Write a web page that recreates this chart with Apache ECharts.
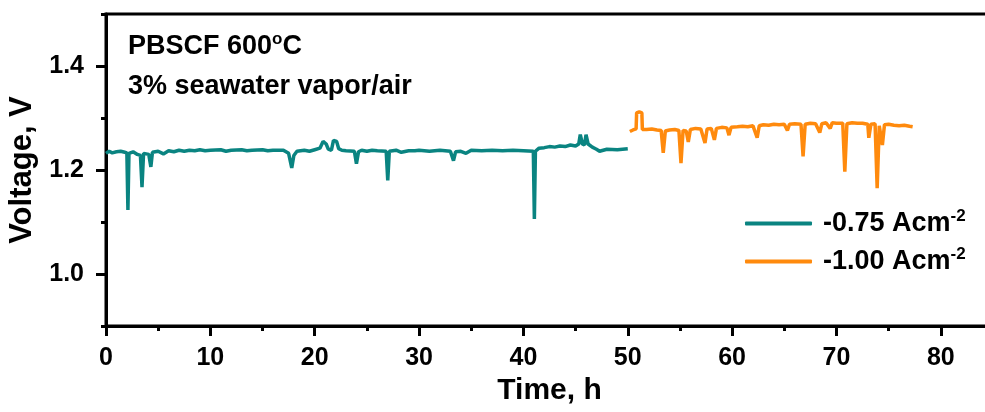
<!DOCTYPE html>
<html>
<head>
<meta charset="utf-8">
<script src="https://cdn.jsdelivr.net/npm/echarts@6/dist/echarts.min.js"></script>
<style>
  html, body { margin: 0; padding: 0; background: #fff; }
  #chart { width: 985px; height: 412px; }
</style>
</head>
<body>
<div id="chart"></div>
<script>
// -0.75 A/cm2 run (teal)
var time075 = [0, 0.3, 0.6, 1.0, 1.4, 1.8, 2.0, 2.1, 2.2, 2.6, 3.0, 3.3, 3.45, 3.6, 4.1, 4.3, 4.45, 5, 5.5, 6, 6.5, 7, 7.5, 8, 8.5, 9, 9.5, 10,
  11, 11.5, 12, 13, 13.5, 14, 15, 15.5, 16, 17, 17.5, 17.8, 18.0, 18.3, 19, 19.5, 20, 20.5, 20.8, 21.1, 21.3, 21.6, 21.8, 22.1, 22.3,
  22.6, 23, 23.8, 24.0, 24.2, 24.5, 25, 25.5, 26, 26.85, 27.0, 27.15, 27.8, 28.3, 29, 29.6, 30, 31, 32, 33, 33.3, 33.5, 34, 34.5, 35,
  36, 37, 38, 39, 40, 40.95, 41.05, 41.15, 41.5, 42, 42.5, 43, 43.5, 44, 44.5, 45, 45.3, 45.45, 45.65, 45.85, 46.0, 46.2, 46.6, 47,
  47.3, 48, 49, 50];
var volt075 = [1.232, 1.236, 1.233, 1.235, 1.236, 1.234, 1.233, 1.123, 1.232, 1.235, 1.230, 1.228, 1.167, 1.232, 1.230, 1.206, 1.234,
  1.236, 1.231, 1.237, 1.235, 1.238, 1.236, 1.238, 1.237, 1.239, 1.237, 1.238,
  1.239, 1.236, 1.238, 1.239, 1.237, 1.238, 1.239, 1.237, 1.238, 1.238, 1.232, 1.204, 1.228, 1.236, 1.238, 1.236, 1.239, 1.242, 1.255,
  1.250, 1.240, 1.238, 1.257, 1.255, 1.241,
  1.238, 1.237, 1.236, 1.212, 1.235, 1.238, 1.236, 1.238, 1.237, 1.236, 1.180, 1.236, 1.238, 1.234, 1.237, 1.237, 1.238, 1.236, 1.238,
  1.236, 1.218, 1.235, 1.236, 1.232, 1.238,
  1.237, 1.238, 1.237, 1.238, 1.237, 1.236, 1.106, 1.236, 1.242, 1.243, 1.245, 1.244, 1.246, 1.245, 1.248, 1.246, 1.250, 1.268, 1.250,
  1.248, 1.268, 1.250, 1.244, 1.240,
  1.236, 1.240, 1.239, 1.241];

// -1.00 A/cm2 run (orange)
var time100 = [50.2, 50.5, 50.8, 50.85, 51.1, 51.35, 51.4, 51.8, 52.3, 52.8, 53.2, 53.4, 53.6, 54, 54.5, 54.9, 55.1, 55.3, 55.6, 55.8,
  56, 56.5, 57, 57.4, 57.6, 58, 58.3, 58.5, 59, 59.5, 59.7, 59.9, 60.5, 61, 61.5, 62, 62.4, 62.6, 63, 63.5, 64, 64.5, 65, 65.3, 65.5,
  66, 66.6, 66.8, 67.0, 67.5, 68, 68.4, 68.6, 69, 69.4, 69.6, 70, 70.6, 70.8, 71.0, 71.5, 72, 72.5, 73, 73.1, 73.3, 73.7, 73.9, 74.1,
  74.4, 74.6, 75, 75.5, 76, 76.5, 77, 77.3];
var volt100 = [1.274, 1.277, 1.279, 1.310, 1.312, 1.310, 1.278, 1.278, 1.279, 1.277, 1.276, 1.233, 1.275, 1.277, 1.278, 1.276, 1.213,
  1.276, 1.275, 1.254,
  1.278, 1.280, 1.279, 1.252, 1.279, 1.280, 1.258, 1.280, 1.282, 1.281, 1.267, 1.282, 1.283, 1.284, 1.283, 1.285, 1.262, 1.285, 1.287,
  1.286, 1.288, 1.287, 1.288, 1.276, 1.288,
  1.289, 1.288, 1.226, 1.288, 1.290, 1.289, 1.272, 1.289, 1.291, 1.280, 1.291, 1.290, 1.290, 1.197, 1.289, 1.291, 1.290, 1.290, 1.288,
  1.262, 1.288, 1.289, 1.165, 1.285,
  1.248, 1.287, 1.288, 1.286, 1.285, 1.286, 1.284, 1.283];

var xMajor = [0, 10, 20, 30, 40, 50, 60, 70, 80];
var yMajor = [1.0, 1.2, 1.4];
var yMinor = [0.9, 1.1, 1.3, 1.5];

var teal = '#0a8481';
var orange = '#ff8a0d';
var font = 'Liberation Sans, Arial, sans-serif';

function zip(xs, ys) {
  return xs.map(function (x, i) { return [x, ys[i]]; });
}

var chart = echarts.init(document.getElementById('chart'), null, { renderer: 'canvas' });

var option = {
  animation: false,
  grid: {
    left: 106, top: 14, width: 887, bottom: 86, outerBoundsMode: 'none',
    show: true, borderColor: '#000', borderWidth: 3, backgroundColor: 'transparent'
  },
  xAxis: {
    type: 'value', min: 0, max: 85, interval: 10,
    name: 'Time, h', nameLocation: 'middle', nameGap: 40,
    nameTextStyle: { fontFamily: font, fontSize: 30, fontWeight: 'bold', color: '#000' },
    axisLine: { onZero: false, lineStyle: { color: '#000', width: 3 } },
    axisTick: { length: 10, lineStyle: { color: '#000', width: 3 } },
    minorTick: { show: true, splitNumber: 2, length: 5, lineStyle: { color: '#000', width: 3 } },
    axisLabel: {
      margin: 20, fontFamily: font, fontSize: 25, fontWeight: 'bold', color: '#000',
      customValues: xMajor
    },
    splitLine: { show: false }
  },
  yAxis: [{
    type: 'value', min: 0.9, max: 1.5,
    name: 'Voltage, V', nameLocation: 'middle', nameGap: 66,
    nameTextStyle: { fontFamily: font, fontSize: 31, fontWeight: 'bold', color: '#000' },
    axisLine: { onZero: false, lineStyle: { color: '#000', width: 3 } },
    axisTick: { length: 10, customValues: yMajor, lineStyle: { color: '#000', width: 3 } },
    axisLabel: {
      margin: 22, fontFamily: font, fontSize: 25, fontWeight: 'bold', color: '#000',
      customValues: yMajor,
      formatter: function (v) { return v.toFixed(1); }
    },
    splitLine: { show: false }
  }, {
    type: 'value', min: 0.9, max: 1.5, position: 'left',
    axisLine: { show: false },
    axisTick: { length: 5, customValues: yMinor, lineStyle: { color: '#000', width: 3 } },
    axisLabel: { show: false },
    splitLine: { show: false }
  }],
  legend: {
    orient: 'vertical', left: 740, top: 203,
    itemWidth: 67, itemHeight: 4, itemGap: 7,
    icon: 'roundRect',
    data: ['-0.75', '-1.00'],
    formatter: function (name) { return '{a|' + name + ' Acm}{s|-2}'; },
    textStyle: {
      padding: [0, 0, 0, 6],
      rich: {
        a: { fontFamily: font, fontSize: 27, fontWeight: 'bold', color: '#000', lineHeight: 30 },
        s: { fontFamily: font, fontSize: 17, fontWeight: 'bold', color: '#000', padding: [0, 0, 14, 0], lineHeight: 30 }
      }
    }
  },
  graphic: [{
    type: 'text', left: 128, top: 31,
    style: {
      text: '{a|PBSCF 600}{s|o}{a|C}',
      rich: {
        a: { fontFamily: font, fontSize: 27, fontWeight: 'bold', fill: '#000' },
        s: { fontFamily: font, fontSize: 17, fontWeight: 'bold', fill: '#000', padding: [0, 0, 14, 0] }
      }
    }
  }, {
    type: 'text', left: 128, top: 73,
    style: { text: '3% seawater vapor/air', font: 'bold 27px ' + font, fill: '#000' }
  }],
  series: [{
    name: '-0.75', type: 'line', showSymbol: false, symbol: 'none',
    data: zip(time075, volt075),
    lineStyle: { color: teal, width: 3.5 }, itemStyle: { color: teal }
  }, {
    name: '-1.00', type: 'line', showSymbol: false, symbol: 'none',
    data: zip(time100, volt100),
    lineStyle: { color: orange, width: 3.5 }, itemStyle: { color: orange }
  }]
};

chart.setOption(option);
</script>
</body>
</html>
